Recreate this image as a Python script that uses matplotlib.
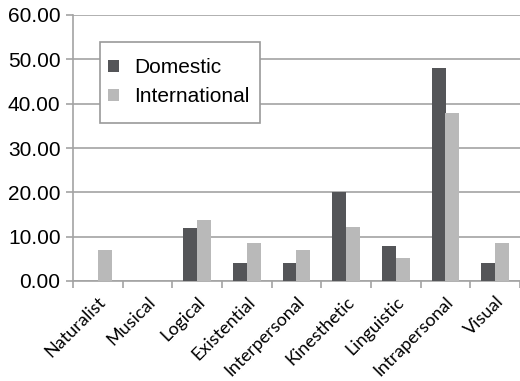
import numpy as np
import matplotlib
matplotlib.use("Agg")
import matplotlib.pyplot as plt
from matplotlib.patches import Rectangle

categories = ["Naturalist", "Musical", "Logical", "Existential", "Interpersonal",
              "Kinesthetic", "Linguistic", "Intrapersonal", "Visual"]
domestic = [0, 0, 12.0, 4.0, 4.0, 20.0, 8.0, 48.0, 4.0]
international = [6.90, 0, 13.79, 8.62, 6.90, 12.07, 5.17, 37.93, 8.62]
yticks = [0, 10, 20, 30, 40, 50, 60]

dark = "#545558"
light = "#b9b9b9"
grid_col = "#a3a3a3"

plt.rcParams["font.family"] = ["Liberation Sans", "DejaVu Sans"]

fig = plt.figure(figsize=(5.2, 3.81), dpi=100)
ax = fig.add_axes([73 / 520, 100 / 381, 447 / 520, 266 / 381])

x = np.arange(len(categories))
w = 0.28
ax.bar(x - w / 2, domestic, w, color=dark, label="Domestic", zorder=3)
ax.bar(x + w / 2, international, w, color=light, label="International", zorder=3)

ax.set_xlim(-0.5, len(categories) - 0.5)
ax.set_ylim(0, 60)
ax.set_yticks(yticks)
ax.set_yticklabels([f"{v:.2f}" for v in yticks], fontsize=15)
ax.yaxis.grid(True, color=grid_col, linewidth=1.2, zorder=0)
ax.set_axisbelow(True)

ax.set_xticks(x)
ax.set_xticklabels(categories, rotation=45, ha="right", rotation_mode="anchor",
                   fontsize=13, family=["Lato", "DejaVu Sans"])
ax.set_xticks(np.arange(len(categories) + 1) - 0.5, minor=True)
ax.tick_params(axis="x", which="major", length=0, pad=9)
ax.tick_params(axis="x", which="minor", length=5, color=grid_col, width=1.2)
ax.tick_params(axis="y", length=5, color=grid_col, width=1.2, pad=4)

for s in ["top", "right"]:
    ax.spines[s].set_visible(False)
for s in ["left", "bottom"]:
    ax.spines[s].set_color(grid_col)
    ax.spines[s].set_linewidth(1.2)

# legend box drawn separately so the padding can be taller than wide
box = Rectangle((0.060, 0.594), 0.358, 0.306, transform=ax.transAxes,
                facecolor="white", edgecolor="#999999", linewidth=1.2, zorder=5)
ax.add_patch(box)
leg = ax.legend(loc="center left", bbox_to_anchor=(0.078, 0.747), borderaxespad=0,
                fontsize=15, frameon=False, handlelength=0.55, handleheight=0.55,
                handletextpad=0.7, borderpad=0, labelspacing=0.48)
leg.set_zorder(6)

fig.savefig("out.png", dpi=100)
